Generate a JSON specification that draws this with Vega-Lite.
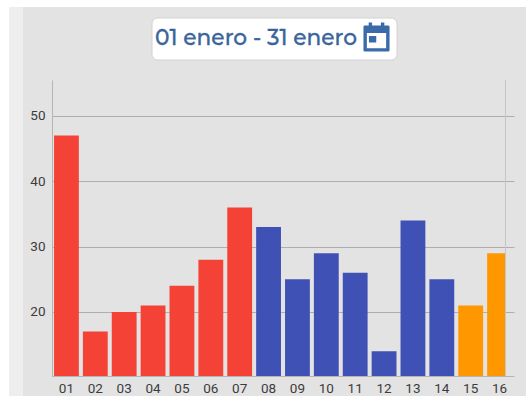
{
  "$schema": "https://vega.github.io/schema/vega-lite/v6.json",
  "width": 454,
  "height": 296,
  "autosize": "none",
  "padding": {"left": 52, "top": 80, "right": 20, "bottom": 20},
  "background": "#e3e3e3",
  "datasets": {
    "dias": [
      {"dia": "01", "total": 47, "grupo": "rojo"},
      {"dia": "02", "total": 17, "grupo": "rojo"},
      {"dia": "03", "total": 20, "grupo": "rojo"},
      {"dia": "04", "total": 21, "grupo": "rojo"},
      {"dia": "05", "total": 24, "grupo": "rojo"},
      {"dia": "06", "total": 28, "grupo": "rojo"},
      {"dia": "07", "total": 36, "grupo": "rojo"},
      {"dia": "08", "total": 33, "grupo": "azul"},
      {"dia": "09", "total": 25, "grupo": "azul"},
      {"dia": "10", "total": 29, "grupo": "azul"},
      {"dia": "11", "total": 26, "grupo": "azul"},
      {"dia": "12", "total": 14, "grupo": "azul"},
      {"dia": "13", "total": 34, "grupo": "azul"},
      {"dia": "14", "total": 25, "grupo": "azul"},
      {"dia": "15", "total": 21, "grupo": "naranja"},
      {"dia": "16", "total": 29, "grupo": "naranja"}
    ]
  },
  "data": {"name": "dias"},
  "resolve": {"scale": {"x": "independent", "y": "independent", "color": "independent"}},
  "layer": [
    {
      "mark": {"type": "bar", "clip": true},
      "encoding": {
        "x": {
          "field": "dia",
          "type": "ordinal",
          "sort": null,
          "scale": {"range": [0, 462], "paddingInner": 0.14, "paddingOuter": 0.07},
          "axis": {
            "title": null,
            "labelAngle": 0,
            "labelFont": "Roboto",
            "labelFontSize": 13.5,
            "labelColor": "#3c3c3c",
            "labelPadding": 5,
            "ticks": false,
            "domainColor": "#b5b5b5",
            "grid": false
          }
        },
        "y": {
          "field": "total",
          "type": "quantitative",
          "scale": {"domain": [10.2, 55.5], "nice": false, "zero": false},
          "axis": {
            "title": null,
            "values": [20, 30, 40, 50],
            "labelFont": "Roboto",
            "labelFontSize": 13.5,
            "labelColor": "#3c3c3c",
            "labelPadding": 7,
            "ticks": false,
            "domainColor": "#b5b5b5",
            "grid": true,
            "gridColor": "#aeaeae",
            "gridOpacity": 1
          }
        },
        "color": {
          "field": "grupo",
          "type": "nominal",
          "legend": null,
          "scale": {"domain": ["rojo", "azul", "naranja"], "range": ["#f44336", "#3f51b5", "#ff9800"]}
        }
      }
    },
    {
      "data": {"values": [{"pieza": "borde"}]},
      "mark": {"type": "rule", "color": "#c6c6c6", "strokeWidth": 1, "clip": false},
      "encoding": {
        "x": {"datum": 505.5, "type": "quantitative", "scale": {"domain": [52, 506], "nice": false, "zero": false}, "axis": null},
        "y": {"datum": 80, "type": "quantitative", "scale": {"domain": [376, 80], "nice": false, "zero": false}, "axis": null},
        "y2": {"datum": 376}
      }
    },
    {
      "data": {"values": [{"pieza": "fondo"}]},
      "mark": {"type": "rect", "fill": "#ffffff", "clip": false},
      "encoding": {
        "x": {"datum": 0, "type": "quantitative", "scale": {"domain": [52, 506], "nice": false, "zero": false}, "axis": null},
        "x2": {"datum": 526},
        "y": {"datum": 0, "type": "quantitative", "scale": {"domain": [376, 80], "nice": false, "zero": false}, "axis": null},
        "y2": {"datum": 7}
      }
    },
    {
      "data": {"values": [{"pieza": "fondo"}]},
      "mark": {"type": "rect", "fill": "#ffffff", "clip": false},
      "encoding": {
        "x": {"datum": 0, "type": "quantitative", "scale": {"domain": [52, 506], "nice": false, "zero": false}, "axis": null},
        "x2": {"datum": 9},
        "y": {"datum": 0, "type": "quantitative", "scale": {"domain": [376, 80], "nice": false, "zero": false}, "axis": null},
        "y2": {"datum": 396}
      }
    },
    {
      "data": {"values": [{"pieza": "fondo"}]},
      "mark": {"type": "rect", "fill": "#eeeeee", "clip": false},
      "encoding": {
        "x": {"datum": 9, "type": "quantitative", "scale": {"domain": [52, 506], "nice": false, "zero": false}, "axis": null},
        "x2": {"datum": 23},
        "y": {"datum": 7, "type": "quantitative", "scale": {"domain": [376, 80], "nice": false, "zero": false}, "axis": null},
        "y2": {"datum": 396}
      }
    },
    {
      "data": {"values": [{"pieza": "selector"}]},
      "mark": {"type": "rect", "fill": "#ffffff", "stroke": "#d2d2d2", "strokeWidth": 1, "cornerRadius": 6, "clip": false},
      "encoding": {
        "x": {"datum": 152, "type": "quantitative", "scale": {"domain": [52, 506], "nice": false, "zero": false}, "axis": null},
        "x2": {"datum": 397},
        "y": {"datum": 18, "type": "quantitative", "scale": {"domain": [376, 80], "nice": false, "zero": false}, "axis": null},
        "y2": {"datum": 60}
      }
    },
    {
      "data": {"values": [{"rango": "01 enero - 31 enero"}]},
      "mark": {"type": "text", "font": "Montserrat, Open Sans", "fontSize": 21.7, "fontWeight": 500, "color": "#3a659b", "stroke": "#3a659b", "strokeWidth": 0.3, "align": "left", "baseline": "middle", "clip": false},
      "encoding": {
        "text": {"field": "rango"},
        "x": {"datum": 155, "type": "quantitative", "scale": {"domain": [52, 506], "nice": false, "zero": false}, "axis": null},
        "y": {"datum": 38, "type": "quantitative", "scale": {"domain": [376, 80], "nice": false, "zero": false}, "axis": null}
      }
    },
    {
      "data": {"values": [{"pieza": "calendario"}]},
      "mark": {
        "type": "point",
        "filled": true,
        "fill": "#3a6ba8",
        "opacity": 1,
        "size": 680,
        "clip": false,
        "shape": "M-0.6 -1.12H-0.34V-0.88H0.34V-1.12H0.6V-0.88H0.9Q1 -0.88 1 -0.78V1.02Q1 1.12 0.9 1.12H-0.9Q-1 1.12 -1 1.02V-0.78Q-1 -0.88 -0.9 -0.88H-0.6ZM-0.74 -0.3V0.86H0.74V-0.3ZM-0.58 -0.08H-0.02V0.42H-0.58Z"
      },
      "encoding": {
        "x": {"datum": 376.5, "type": "quantitative", "scale": {"domain": [52, 506], "nice": false, "zero": false}, "axis": null},
        "y": {"datum": 37, "type": "quantitative", "scale": {"domain": [376, 80], "nice": false, "zero": false}, "axis": null}
      }
    }
  ],
  "config": {"view": {"stroke": null}}
}
